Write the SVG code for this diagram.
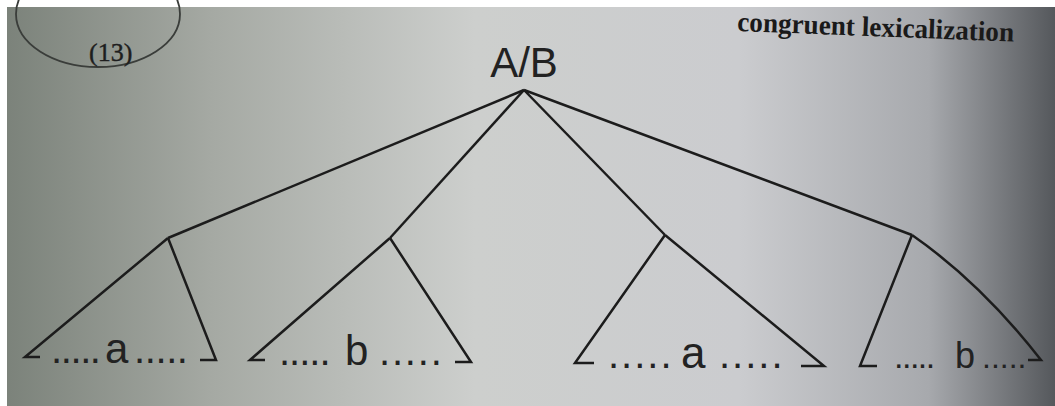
<svg xmlns="http://www.w3.org/2000/svg" width="1055" height="406" viewBox="0 0 1055 406">
<defs>
<linearGradient id="bg" x1="0" y1="0" x2="1" y2="0">
<stop offset="0" stop-color="#7a8179"/>
<stop offset="0.2" stop-color="#a5a9a3"/>
<stop offset="0.45" stop-color="#cdcfcd"/>
<stop offset="0.7" stop-color="#cbcccf"/>
<stop offset="0.88" stop-color="#a7a9ad"/>
<stop offset="1" stop-color="#55585c"/>
</linearGradient>
<style>
.ln{fill:none;stroke:#1c1c1c;stroke-width:2.5;stroke-linecap:butt;stroke-linejoin:miter}
.dots{font-family:"Liberation Sans",Arial,sans-serif;font-size:40px;fill:#222}
.lt{font-family:"Liberation Sans",Arial,sans-serif;font-size:42px;fill:#222}
</style>
</defs>
<rect x="0" y="0" width="1055" height="406" fill="url(#bg)"/>
<rect x="0" y="0" width="1055" height="7" fill="#ffffff"/>
<rect x="0" y="0" width="7" height="406" fill="#ffffff"/>

<g id="example-number">
<ellipse cx="98" cy="14" rx="82" ry="53" fill="none" stroke="#3a3d3a" stroke-width="1.8"/>
<text x="89" y="61" font-family="'Liberation Serif','Times New Roman',serif" font-size="26" fill="#1e1e1e" stroke="#1e1e1e" stroke-width="0.4">(13)</text>
</g>

<g id="caption">
<text x="737" y="31" transform="rotate(2.2 737 31)" textLength="277" lengthAdjust="spacingAndGlyphs" font-family="'Liberation Serif','Times New Roman',serif" font-weight="bold" font-size="28" fill="#1a1a1a">congruent lexicalization</text>
</g>

<g id="root">
<text x="524" y="77" text-anchor="middle" class="lt">A/B</text>
</g>

<g id="connectors">
<path class="ln" d="M524 90 L168 238"/>
<path class="ln" d="M524 90 L390 238"/>
<path class="ln" d="M524 90 L665 235"/>
<path class="ln" d="M524 90 L912 235"/>
</g>

<g id="node-1">
<path class="ln" d="M168 238 L25 357 L40 357"/>
<path class="ln" d="M168 238 L216 360 L200 360"/>
<text y="363"><tspan class="dots" x="51" letter-spacing="-1.4">.....</tspan><tspan class="lt" x="105">a</tspan><tspan class="dots" x="134" letter-spacing="-0.4">.....</tspan></text>
</g>

<g id="node-2">
<path class="ln" d="M390 238 L250 360 L265 360"/>
<path class="ln" d="M390 238 L471 362 L455 362"/>
<text y="365"><tspan class="dots" x="279" letter-spacing="-1">.....</tspan><tspan class="lt" x="345">b</tspan><tspan class="dots" x="379" letter-spacing="1.8">.....</tspan></text>
</g>

<g id="node-3">
<path class="ln" d="M665 235 L575 363 L594 363"/>
<path class="ln" d="M665 235 L824 366 L801 366"/>
<text y="368"><tspan class="dots" x="608" letter-spacing="2">.....</tspan><tspan class="lt" x="681" style="font-size:44px">a</tspan><tspan class="dots" x="719" letter-spacing="2">.....</tspan></text>
</g>

<g id="node-4">
<path class="ln" d="M912 235 L860 366 L877 366"/>
<path class="ln" d="M912 235 Q981 283 1041 360 L1028 360"/>
<text y="368"><tspan class="dots" x="894" style="font-size:34px" letter-spacing="-1.5">.....</tspan><tspan class="lt" x="955" style="font-size:36px">b</tspan><tspan class="dots" x="982" style="font-size:32px" letter-spacing="0">.....</tspan></text>
</g>
</svg>
